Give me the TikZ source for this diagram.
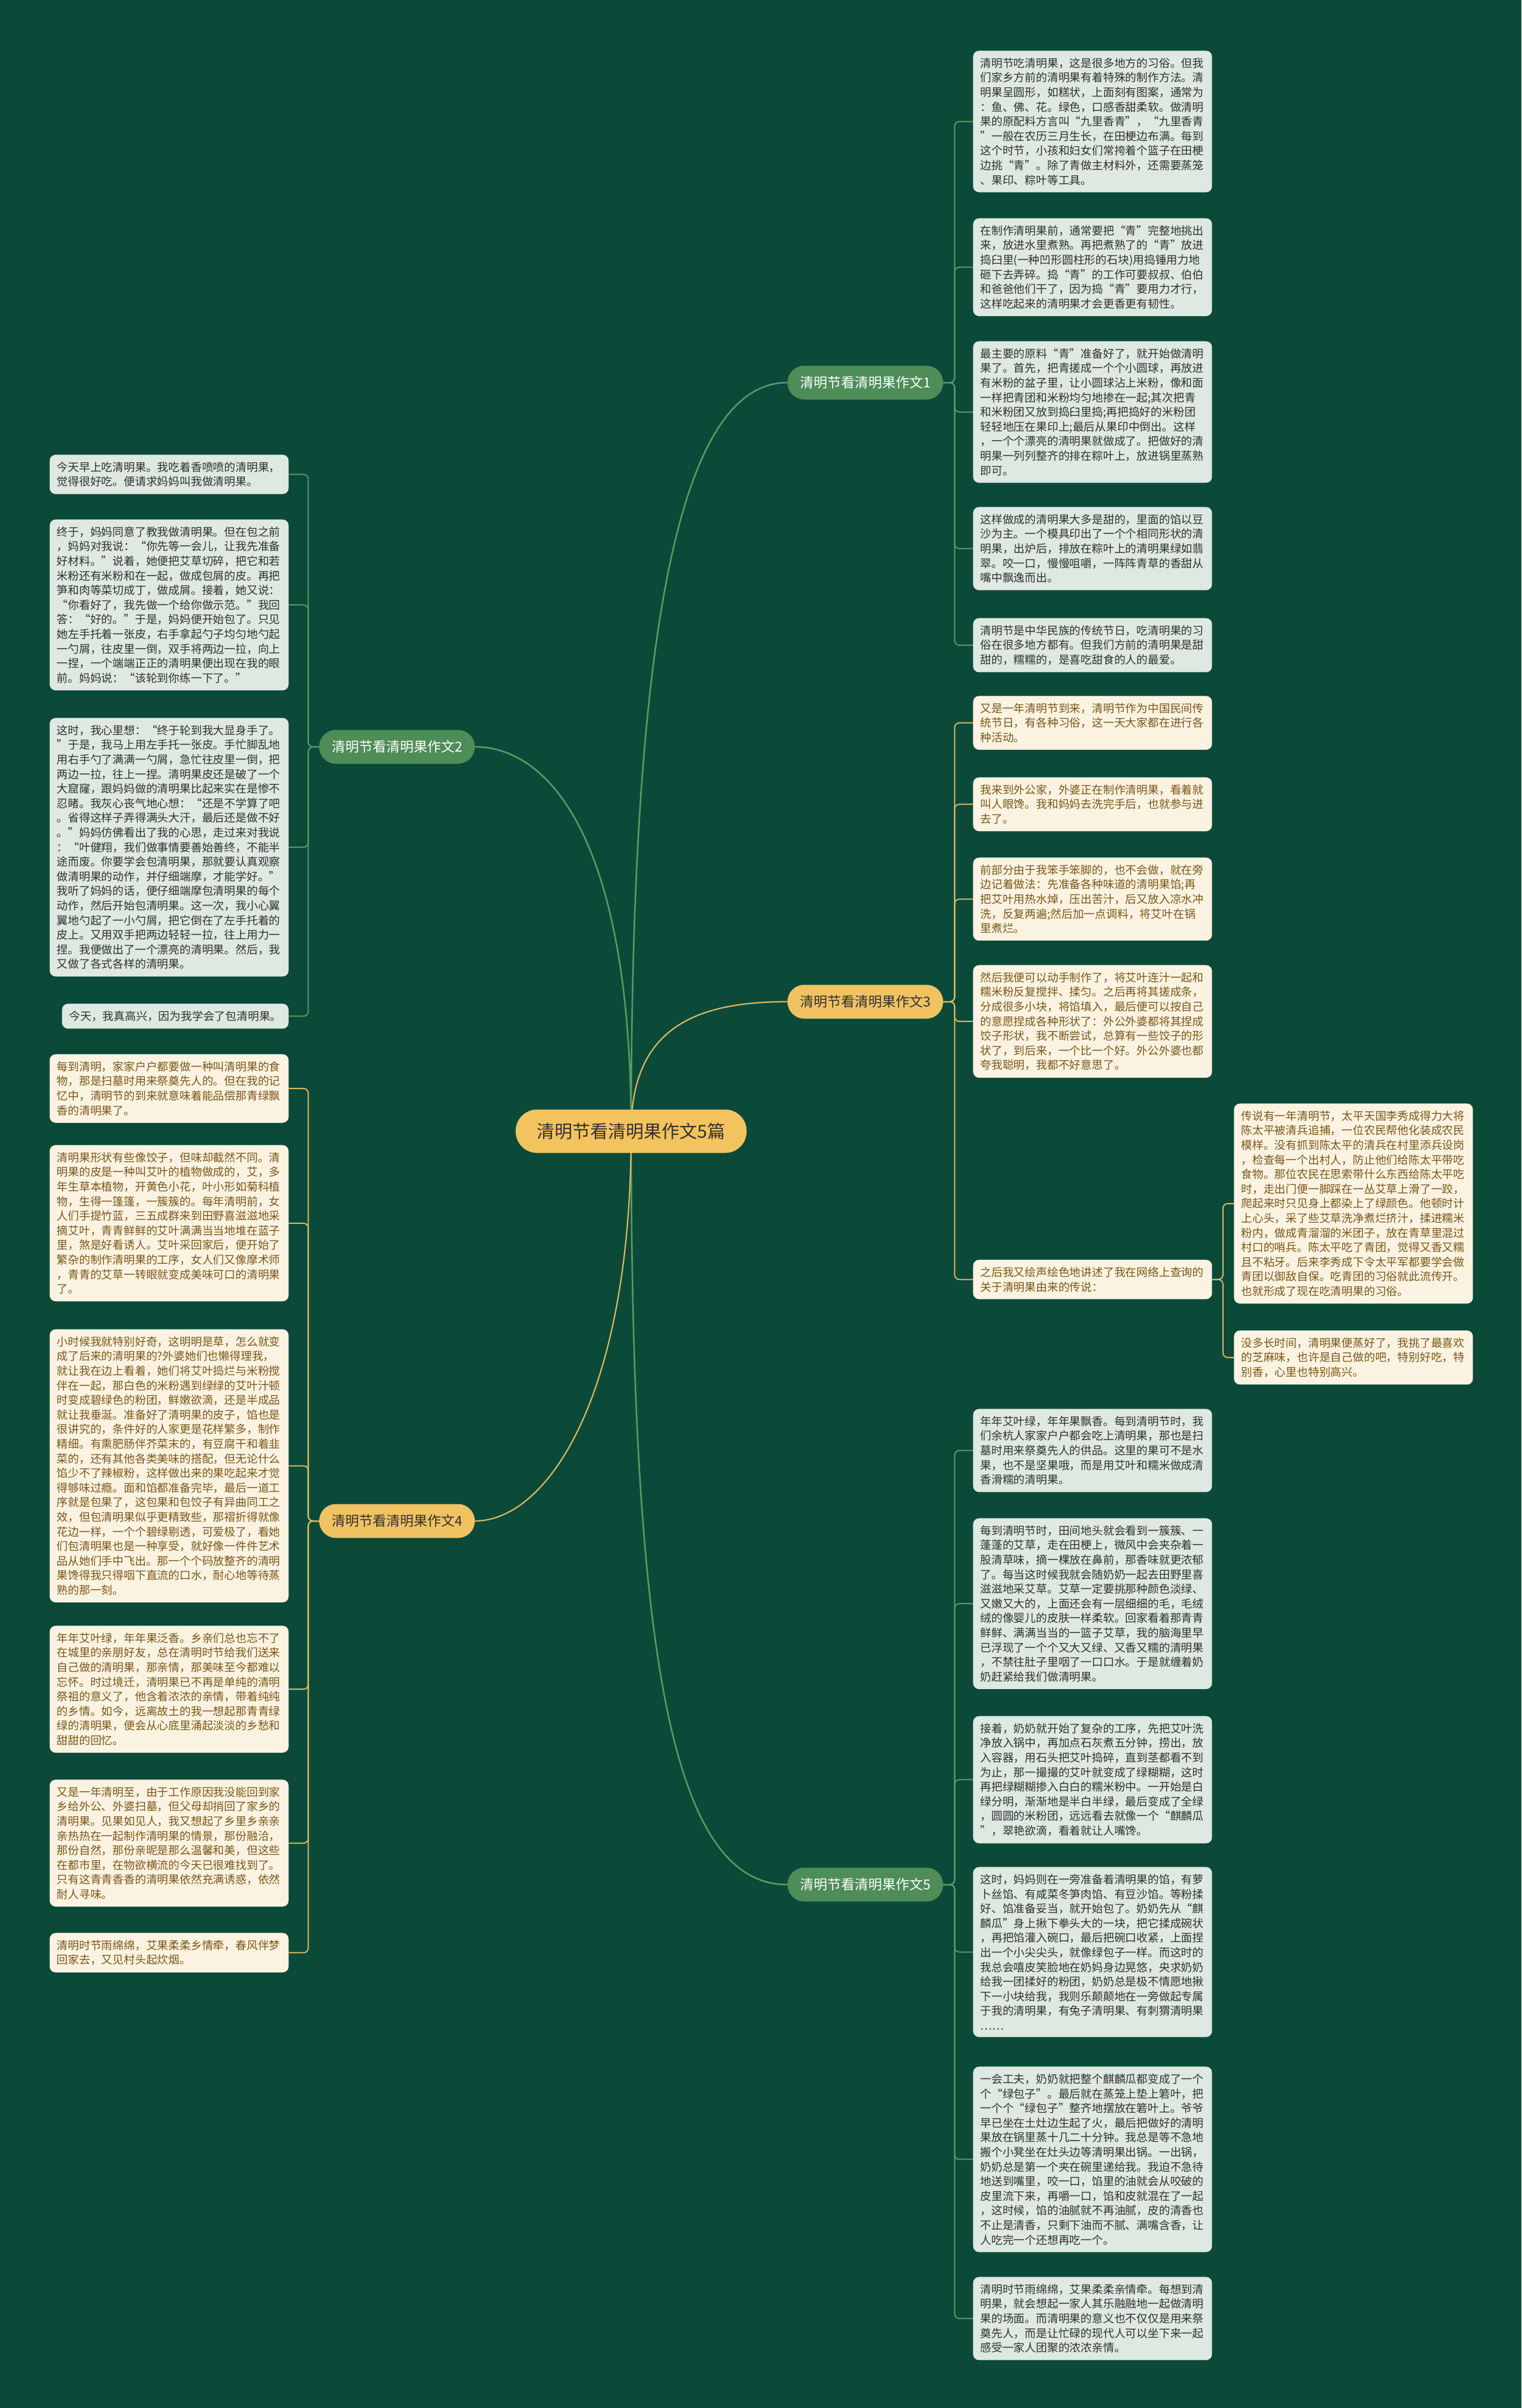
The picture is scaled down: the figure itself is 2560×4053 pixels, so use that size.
\documentclass[tikz,border=0pt]{standalone}
\usepackage{fontspec}
\newfontfamily\cjk{Noto Sans CJK SC}
\usetikzlibrary{positioning, calc, backgrounds}

\definecolor{bgdark}{RGB}{11,74,57}
\definecolor{rootfill}{RGB}{243,195,95}
\definecolor{branchgreen}{RGB}{78,140,88}
\definecolor{branchyellow}{RGB}{240,194,98}
\definecolor{leafgreen}{RGB}{222,233,226}
\definecolor{leafcream}{RGB}{251,243,226}
\definecolor{textgray}{RGB}{48,48,48}
\definecolor{textbrown}{RGB}{122,86,22}
\definecolor{linkgreen}{RGB}{88,156,98}
\definecolor{linkyellow}{RGB}{222,184,96}

\begin{document}
\begin{tikzpicture}[x=0.5pt, y=-0.5pt,
    rootbox/.style={rounded corners=18pt, fill=rootfill, text=textgray,
        font=\cjk\fontsize{15}{18}\selectfont, minimum height=36.5pt, inner xsep=18pt},
    branchbox/.style={rounded corners=14pt, minimum height=28.5pt, inner xsep=10.5pt,
        font=\cjk\fontsize{11.5}{14}\selectfont},
    greenbranch/.style={branchbox, fill=branchgreen, text=white},
    yellowbranch/.style={branchbox, fill=branchyellow, text=textgray},
    leafbox/.style={rounded corners=5pt, inner xsep=6pt, inner ysep=6pt,
        text width=189pt, align=left, anchor=north west,
        font=\cjk\fontsize{9.4}{12.3}\selectfont},
    greenleaf/.style={leafbox, fill=leafgreen, text=textgray},
    yellowleaf/.style={leafbox, fill=leafcream, text=textbrown},
    glink/.style={draw=linkgreen, line width=1pt, rounded corners=4pt},
    ylink/.style={draw=linkyellow, line width=1pt, rounded corners=4pt},
    gtrunk/.style={draw=linkgreen, line width=1.3pt},
    ytrunk/.style={draw=linkyellow, line width=1.1pt}]

    % root and the five essays
    \node[rootbox] (root) at (1062,1904) {清明节看清明果作文5篇};
    \node[greenbranch] (b1) at (1456,644) {清明节看清明果作文1};
    \node[greenbranch] (b2) at (668,1257) {清明节看清明果作文2};
    \node[yellowbranch] (b3) at (1456,1686) {清明节看清明果作文3};
    \node[yellowbranch] (b4) at (668,2560) {清明节看清明果作文4};
    \node[greenbranch] (b5) at (1456,3172) {清明节看清明果作文5};

    % essay 1
    \node[greenleaf] (l1a) at (1637,85) {清明节吃清明果，这是很多地方的习俗。但我\\们家乡方前的清明果有着特殊的制作方法。清\\明果呈圆形，如糕状，上面刻有图案，通常为\\：鱼、佛、花。绿色，口感香甜柔软。做清明\\果的原配料方言叫“九里香青”，“九里香青\\”一般在农历三月生长，在田梗边布满。每到\\这个时节，小孩和妇女们常挎着个篮子在田梗\\边挑“青”。除了青做主材料外，还需要蒸笼\\、果印、粽叶等工具。};
    \node[greenleaf] (l1b) at (1637,367) {在制作清明果前，通常要把“青”完整地挑出\\来，放进水里煮熟。再把煮熟了的“青”放进\\捣臼里(一种凹形圆柱形的石块)用捣锤用力地\\砸下去弄碎。捣“青”的工作可要叔叔、伯伯\\和爸爸他们干了，因为捣“青”要用力才行，\\这样吃起来的清明果才会更香更有韧性。};
    \node[greenleaf] (l1c) at (1637,574) {最主要的原料“青”准备好了，就开始做清明\\果了。首先，把青搓成一个个小圆球，再放进\\有米粉的盆子里，让小圆球沾上米粉，像和面\\一样把青团和米粉均匀地掺在一起;其次把青\\和米粉团又放到捣臼里捣;再把捣好的米粉团\\轻轻地压在果印上;最后从果印中倒出。这样\\，一个个漂亮的清明果就做成了。把做好的清\\明果一列列整齐的排在粽叶上，放进锅里蒸熟\\即可。};
    \node[greenleaf] (l1d) at (1637,853) {这样做成的清明果大多是甜的，里面的馅以豆\\沙为主。一个模具印出了一个个相同形状的清\\明果，出炉后，排放在粽叶上的清明果绿如翡\\翠。咬一口，慢慢咀嚼，一阵阵青草的香甜从\\嘴中飘逸而出。};
    \node[greenleaf] (l1e) at (1637,1040) {清明节是中华民族的传统节日，吃清明果的习\\俗在很多地方都有。但我们方前的清明果是甜\\甜的，糯糯的，是喜吃甜食的人的最爱。};

    % essay 3
    \node[yellowleaf] (l3a) at (1637,1171) {又是一年清明节到来，清明节作为中国民间传\\统节日，有各种习俗，这一天大家都在进行各\\种活动。};
    \node[yellowleaf] (l3b) at (1637,1308) {我来到外公家，外婆正在制作清明果，看着就\\叫人眼馋。我和妈妈去洗完手后，也就参与进\\去了。};
    \node[yellowleaf] (l3c) at (1637,1443) {前部分由于我笨手笨脚的，也不会做，就在旁\\边记着做法：先准备各种味道的清明果馅;再\\把艾叶用热水焯，压出苦汁，后又放入凉水冲\\洗，反复两遍;然后加一点调料，将艾叶在锅\\里煮烂。};
    \node[yellowleaf] (l3d) at (1637,1624) {然后我便可以动手制作了，将艾叶连汁一起和\\糯米粉反复搅拌、揉匀。之后再将其搓成条，\\分成很多小块，将馅填入，最后便可以按自己\\的意愿捏成各种形状了：外公外婆都将其捏成\\饺子形状，我不断尝试，总算有一些饺子的形\\状了，到后来，一个比一个好。外公外婆也都\\夸我聪明，我都不好意思了。};
    \node[yellowleaf] (l3e) at (1637,2120) {之后我又绘声绘色地讲述了我在网络上查询的\\关于清明果由来的传说：};
    \node[yellowleaf] (l3f) at (2076,1857) {传说有一年清明节，太平天国李秀成得力大将\\陈太平被清兵追捕，一位农民帮他化装成农民\\模样。没有抓到陈太平的清兵在村里添兵设岗\\，检查每一个出村人，防止他们给陈太平带吃\\食物。那位农民在思索带什么东西给陈太平吃\\时，走出门便一脚踩在一丛艾草上滑了一跤，\\爬起来时只见身上都染上了绿颜色。他顿时计\\上心头，采了些艾草洗净煮烂挤汁，揉进糯米\\粉内，做成青溜溜的米团子，放在青草里混过\\村口的哨兵。陈太平吃了青团，觉得又香又糯\\且不粘牙。后来李秀成下令太平军都要学会做\\青团以御敌自保。吃青团的习俗就此流传开。\\也就形成了现在吃清明果的习俗。};
    \node[yellowleaf] (l3g) at (2076,2239) {没多长时间，清明果便蒸好了，我挑了最喜欢\\的芝麻味，也许是自己做的吧，特别好吃，特\\别香，心里也特别高兴。};

    % essay 5
    \node[greenleaf] (l5a) at (1637,2371) {年年艾叶绿，年年果飘香。每到清明节时，我\\们余杭人家家户户都会吃上清明果，那也是扫\\墓时用来祭奠先人的供品。这里的果可不是水\\果，也不是坚果哦，而是用艾叶和糯米做成清\\香滑糯的清明果。};
    \node[greenleaf] (l5b) at (1637,2555) {每到清明节时，田间地头就会看到一簇簇、一\\蓬蓬的艾草，走在田梗上，微风中会夹杂着一\\股清草味，摘一棵放在鼻前，那香味就更浓郁\\了。每当这时候我就会随奶奶一起去田野里喜\\滋滋地采艾草。艾草一定要挑那种颜色淡绿、\\又嫩又大的，上面还会有一层细细的毛，毛绒\\绒的像婴儿的皮肤一样柔软。回家看着那青青\\鲜鲜、满满当当的一篮子艾草，我的脑海里早\\已浮现了一个个又大又绿、又香又糯的清明果\\，不禁往肚子里咽了一口口水。于是就缠着奶\\奶赶紧给我们做清明果。};
    \node[greenleaf] (l5c) at (1637,2888) {接着，奶奶就开始了复杂的工序，先把艾叶洗\\净放入锅中，再加点石灰煮五分钟，捞出，放\\入容器，用石头把艾叶捣碎，直到茎都看不到\\为止，那一撮撮的艾叶就变成了绿糊糊，这时\\再把绿糊糊掺入白白的糯米粉中。一开始是白\\绿分明，渐渐地是半白半绿，最后变成了全绿\\，圆圆的米粉团，远远看去就像一个“麒麟瓜\\”，翠艳欲滴，看着就让人嘴馋。};
    \node[greenleaf] (l5d) at (1637,3142) {这时，妈妈则在一旁准备着清明果的馅，有萝\\卜丝馅、有咸菜冬笋肉馅、有豆沙馅。等粉揉\\好、馅准备妥当，就开始包了。奶奶先从“麒\\麟瓜”身上揪下拳头大的一块，把它揉成碗状\\，再把馅灌入碗口，最后把碗口收紧，上面捏\\出一个小尖尖头，就像绿包子一样。而这时的\\我总会嘻皮笑脸地在奶妈身边晃悠，央求奶奶\\给我一团揉好的粉团，奶奶总是极不情愿地揪\\下一小块给我，我则乐颠颠地在一旁做起专属\\于我的清明果，有兔子清明果、有刺猬清明果\\……};
    \node[greenleaf] (l5e) at (1637,3478) {一会工夫，奶奶就把整个麒麟瓜都变成了一个\\个“绿包子”。最后就在蒸笼上垫上箬叶，把\\一个个“绿包子”整齐地摆放在箬叶上。爷爷\\早已坐在土灶边生起了火，最后把做好的清明\\果放在锅里蒸十几二十分钟。我总是等不急地\\搬个小凳坐在灶头边等清明果出锅。一出锅，\\奶奶总是第一个夹在碗里递给我。我迫不急待\\地送到嘴里，咬一口，馅里的油就会从咬破的\\皮里流下来，再嚼一口，馅和皮就混在了一起\\，这时候，馅的油腻就不再油腻，皮的清香也\\不止是清香，只剩下油而不腻、满嘴含香，让\\人吃完一个还想再吃一个。};
    \node[greenleaf] (l5f) at (1637,3832) {清明时节雨绵绵，艾果柔柔亲情牵。每想到清\\明果，就会想起一家人其乐融融地一起做清明\\果的场面。而清明果的意义也不仅仅是用来祭\\奠先人，而是让忙碌的现代人可以坐下来一起\\感受一家人团聚的浓浓亲情。};

    % essay 2 (left)
    \node[greenleaf, anchor=north east] (l2a) at (486,765) {今天早上吃清明果。我吃着香喷喷的清明果，\\觉得很好吃。便请求妈妈叫我做清明果。};
    \node[greenleaf, anchor=north east] (l2b) at (486,874) {终于，妈妈同意了教我做清明果。但在包之前\\，妈妈对我说：“你先等一会儿，让我先准备\\好材料。”说着，她便把艾草切碎，把它和若\\米粉还有米粉和在一起，做成包屑的皮。再把\\笋和肉等菜切成丁，做成屑。接着，她又说：\\“你看好了，我先做一个给你做示范。”我回\\答：“好的。”于是，妈妈便开始包了。只见\\她左手托着一张皮，右手拿起勺子均匀地勺起\\一勺屑，往皮里一倒，双手将两边一拉，向上\\一捏，一个端端正正的清明果便出现在我的眼\\前。妈妈说：“该轮到你练一下了。”};
    \node[greenleaf, anchor=north east] (l2c) at (486,1208) {这时，我心里想：“终于轮到我大显身手了。\\”于是，我马上用左手托一张皮。手忙脚乱地\\用右手勺了满满一勺屑，急忙往皮里一倒，把\\两边一拉，往上一捏。清明果皮还是破了一个\\大窟窿，跟妈妈做的清明果比起来实在是惨不\\忍睹。我灰心丧气地心想：“还是不学算了吧\\。省得这样子弄得满头大汗，最后还是做不好\\。”妈妈仿佛看出了我的心思，走过来对我说\\：“叶健翔，我们做事情要善始善终，不能半\\途而废。你要学会包清明果，那就要认真观察\\做清明果的动作，并仔细端摩，才能学好。”\\我听了妈妈的话，便仔细端摩包清明果的每个\\动作，然后开始包清明果。这一次，我小心翼\\翼地勺起了一小勺屑，把它倒在了左手托着的\\皮上。又用双手把两边轻轻一拉，往上用力一\\捏。我便做出了一个漂亮的清明果。然后，我\\又做了各式各样的清明果。};
    \node[greenleaf, anchor=north east, text width=] (l2d) at (486,1689) {今天，我真高兴，因为我学会了包清明果。};

    % essay 4 (left)
    \node[yellowleaf, anchor=north east] (l4a) at (486,1774) {每到清明，家家户户都要做一种叫清明果的食\\物，那是扫墓时用来祭奠先人的。但在我的记\\忆中，清明节的到来就意味着能品偿那青绿飘\\香的清明果了。};
    \node[yellowleaf, anchor=north east] (l4b) at (486,1927) {清明果形状有些像饺子，但味却截然不同。清\\明果的皮是一种叫艾叶的植物做成的，艾，多\\年生草本植物，开黄色小花，叶小形如菊科植\\物，生得一篷篷，一簇簇的。每年清明前，女\\人们手提竹蓝，三五成群来到田野喜滋滋地采\\摘艾叶，青青鲜鲜的艾叶满满当当地堆在蓝子\\里，煞是好看诱人。艾叶采回家后，便开始了\\繁杂的制作清明果的工序，女人们又像摩术师\\，青青的艾草一转眼就变成美味可口的清明果\\了。};
    \node[yellowleaf, anchor=north east] (l4c) at (486,2237) {小时候我就特别好奇，这明明是草，怎么就变\\成了后来的清明果的?外婆她们也懒得理我，\\就让我在边上看着，她们将艾叶捣烂与米粉搅\\伴在一起，那白色的米粉遇到绿绿的艾叶汁顿\\时变成碧绿色的粉团，鲜嫩欲滴，还是半成品\\就让我垂涎。准备好了清明果的皮子，馅也是\\很讲究的，条件好的人家更是花样繁多，制作\\精细。有熏肥肠伴芥菜末的，有豆腐干和着韭\\菜的，还有其他各类美味的搭配，但无论什么\\馅少不了辣椒粉，这样做出来的果吃起来才觉\\得够味过瘾。面和馅都准备完毕，最后一道工\\序就是包果了，这包果和包饺子有异曲同工之\\效，但包清明果似乎更精致些，那褶折得就像\\花边一样，一个个碧绿剔透，可爱极了，看她\\们包清明果也是一种享受，就好像一件件艺术\\品从她们手中飞出。那一个个码放整齐的清明\\果馋得我只得咽下直流的口水，耐心地等待蒸\\熟的那一刻。};
    \node[yellowleaf, anchor=north east] (l4d) at (486,2736) {年年艾叶绿，年年果泛香。乡亲们总也忘不了\\在城里的亲朋好友，总在清明时节给我们送来\\自己做的清明果，那亲情，那美味至今都难以\\忘怀。时过境迁，清明果已不再是单纯的清明\\祭祖的意义了，他含着浓浓的亲情，带着纯纯\\的乡情。如今，远离故土的我一想起那青青绿\\绿的清明果，便会从心底里涌起淡淡的乡愁和\\甜甜的回忆。};
    \node[yellowleaf, anchor=north east] (l4e) at (486,2995) {又是一年清明至，由于工作原因我没能回到家\\乡给外公、外婆扫墓，但父母却捎回了家乡的\\清明果。见果如见人，我又想起了乡里乡亲亲\\亲热热在一起制作清明果的情景，那份融洽，\\那份自然，那份亲昵是那么温馨和美，但这些\\在都市里，在物欲横流的今天已很难找到了。\\只有这青青香香的清明果依然充满诱惑，依然\\耐人寻味。};
    \node[yellowleaf, anchor=north east] (l4f) at (486,3253) {清明时节雨绵绵，艾果柔柔乡情牵，春风伴梦\\回家去，又见村头起炊烟。};

    \begin{scope}[on background layer]
        \fill[bgdark] (0,0) rectangle (2560,4053);

        % root to essays, all leaving the middle of the root
        \draw[gtrunk] (root.center) .. controls +(0,-800) and +(-190,0) .. (b1.west);
        \draw[ytrunk] (root.center) .. controls +(0,-170) and +(-160,0) .. (b3.west);
        \draw[gtrunk] (root.center) .. controls +(0,900) and +(-190,0) .. (b5.west);
        \draw[gtrunk] (root.center) .. controls +(0,-500) and +(120,0) .. (b2.east);
        \draw[ytrunk] (root.center) .. controls +(0,450) and +(120,0) .. (b4.east);

        % essays to paragraphs
        \foreach \l in {l1a,l1b,l1c,l1d,l1e}
            \draw[glink] (b1.east) -- ++(19,0) |- (\l.west);
        \foreach \l in {l3a,l3b,l3c,l3d,l3e}
            \draw[ylink] (b3.east) -- ++(19,0) |- (\l.west);
        \foreach \l in {l3f,l3g}
            \draw[ylink] (l3e.east) -- ++(18,0) |- (\l.west);
        \foreach \l in {l5a,l5b,l5c,l5d,l5e,l5f}
            \draw[glink] (b5.east) -- ++(19,0) |- (\l.west);
        \foreach \l in {l2a,l2b,l2c,l2d}
            \draw[glink] (b2.west) -- ++(-18,0) |- (\l.east);
        \foreach \l in {l4a,l4b,l4c,l4d,l4e,l4f}
            \draw[ylink] (b4.west) -- ++(-18,0) |- (\l.east);
    \end{scope}

\end{tikzpicture}
\end{document}
